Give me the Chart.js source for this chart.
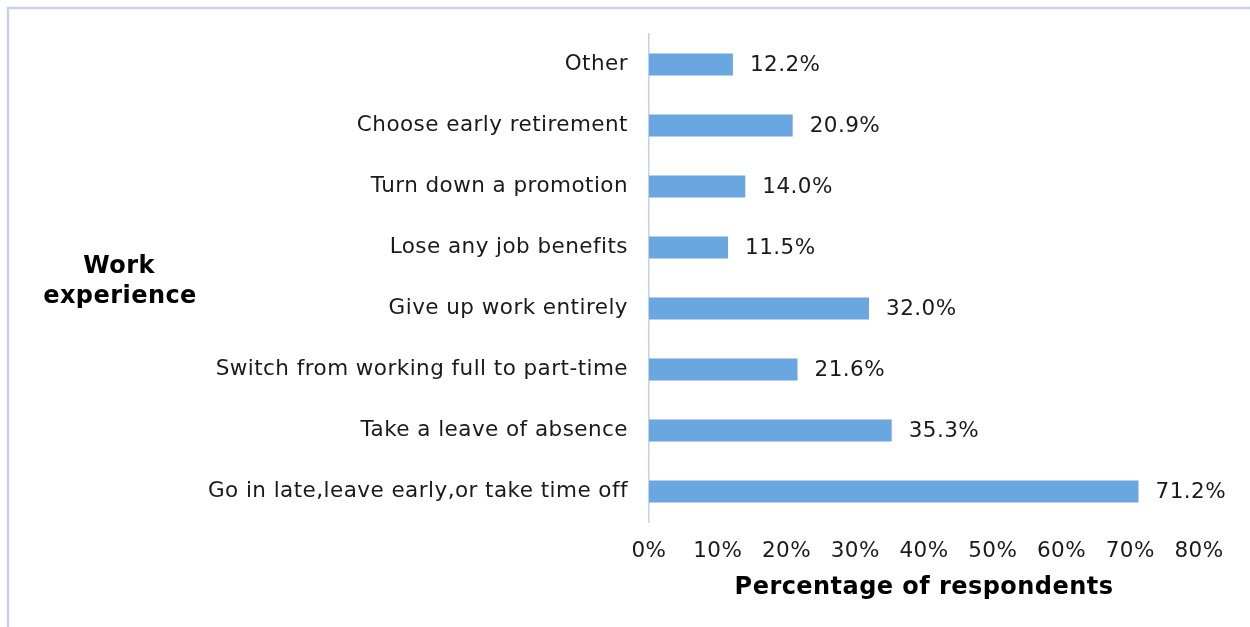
<!DOCTYPE html>
<html>
<head>
<meta charset="utf-8">
<script src="https://cdn.jsdelivr.net/npm/chart.js@4"></script>
<style>
  html, body { margin: 0; padding: 0; background: #ffffff; }
  #wrap { width: 1250px; height: 627px; position: relative; }
</style>
</head>
<body>
<div id="wrap"><canvas id="chart" width="1250" height="627"></canvas></div>
<script>
// Work experience outcomes, listed top to bottom
const categories = [
  "Other",
  "Choose early retirement",
  "Turn down a promotion",
  "Lose any job benefits",
  "Give up work entirely",
  "Switch from working full to part-time",
  "Take a leave of absence",
  "Go in late,leave early,or take time off"
];
// Share of respondents (%)
const percentages = [12.2, 20.9, 14.0, 11.5, 32.0, 21.6, 35.3, 71.2];
const xTicks = [0, 10, 20, 30, 40, 50, 60, 70, 80];

const FONT = "'DejaVu Sans', Verdana, sans-serif";
const TEXT_SIZE = 21.5;

// Frame lines along the top and left edges; slightly open letter spacing for all text
const framePlugin = {
  id: 'frame',
  beforeDraw(chart) {
    const ctx = chart.ctx;
    ctx.save();
    ctx.fillStyle = '#ffffff';
    ctx.fillRect(0, 0, chart.width, chart.height);
    ctx.strokeStyle = '#c9d0ef';
    ctx.lineWidth = 2.5;
    ctx.beginPath();
    ctx.moveTo(8, chart.height);
    ctx.lineTo(8, 8);
    ctx.lineTo(chart.width, 8);
    ctx.stroke();
    ctx.restore();
    if ('letterSpacing' in ctx) ctx.letterSpacing = '0.45px';
  }
};

// Value labels to the right of each bar, plus the horizontal category-axis title
const labelPlugin = {
  id: 'valueLabels',
  afterDatasetsDraw(chart) {
    const ctx = chart.ctx;
    const meta = chart.getDatasetMeta(0);
    ctx.save();
    ctx.fillStyle = '#1a1a1a';
    ctx.font = TEXT_SIZE + 'px ' + FONT;
    ctx.textAlign = 'left';
    ctx.textBaseline = 'middle';
    meta.data.forEach((bar, i) => {
      ctx.fillText(percentages[i].toFixed(1) + '%', bar.x + 17, bar.y + 1);
    });
    ctx.font = 'bold 24px ' + FONT;
    ctx.fillStyle = '#000000';
    ctx.textAlign = 'center';
    ctx.textBaseline = 'alphabetic';
    ctx.fillText('Work', 119, 273);
    ctx.fillText('experience', 120, 303);
    ctx.restore();
  }
};

new Chart(document.getElementById('chart'), {
  type: 'bar',
  data: {
    labels: categories,
    datasets: [{
      data: percentages,
      backgroundColor: '#6aa6e0',
      borderWidth: 0,
      categoryPercentage: 1.0,
      barPercentage: 0.36
    }]
  },
  options: {
    indexAxis: 'y',
    responsive: false,
    animation: false,
    devicePixelRatio: 1,
    layout: { padding: { top: 34, right: 51, bottom: 0, left: 0 } },
    plugins: {
      legend: { display: false },
      tooltip: { enabled: false }
    },
    scales: {
      x: {
        min: 0,
        max: 80,
        afterBuildTicks(scale) { scale.ticks = xTicks.map(v => ({ value: v })); },
        afterFit(scale) { scale.height = 105; },
        grid: { display: false, drawTicks: false },
        border: { display: false },
        ticks: {
          padding: 17,
          color: '#1a1a1a',
          font: { family: FONT, size: TEXT_SIZE },
          maxRotation: 0,
          callback: v => v + '%'
        },
        title: {
          display: true,
          text: 'Percentage of respondents',
          color: '#000000',
          font: { family: FONT, size: 24, weight: 'bold' },
          padding: { top: 4, bottom: 25 }
        }
      },
      y: {
        afterFit(scale) { scale.width = 649; },
        grid: { display: false, drawTicks: false },
        border: { display: true, color: '#c3d2ea', width: 1.5 },
        ticks: {
          padding: 21,
          color: '#1a1a1a',
          font: { family: FONT, size: TEXT_SIZE }
        }
      }
    }
  },
  plugins: [framePlugin, labelPlugin]
});
</script>
</body>
</html>
